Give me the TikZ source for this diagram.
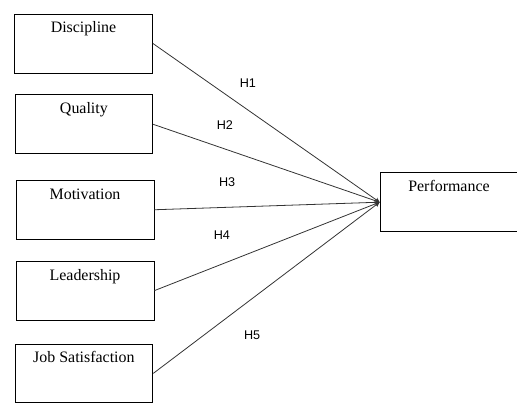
\documentclass[tikz,border=0pt]{standalone}
\usepackage{xcolor}
\usepackage{fontspec}
\usepackage{tikz}
\setmainfont{Liberation Serif}
\newfontfamily\hfont{Liberation Sans}

\tikzset{
    caja/.style={draw, line width=0.6pt, rectangle, inner sep=0pt, minimum width=3.65cm,
        text height=0.5cm, text depth=1.06cm, font=\fontsize{12}{14}\selectfont},
    hip/.style={font=\hfont\fontsize{9.5}{11}\selectfont},
    flecha/.style={->, line width=0.6pt, black!80}
}

\begin{document}
\begin{tikzpicture}[>=stealth]
    \useasboundingbox (0,0) rectangle (13.68,10.87);

    % Variables independientes
    \node[caja] (disc) at (2.21,9.72) {Discipline};
    \node[caja] (qual) at (2.22,7.58) {Quality};
    \node[caja] (moti) at (2.25,5.32) {Motivation};
    \node[caja] (lead) at (2.25,3.18) {Leadership};
    \node[caja] (jobs) at (2.22,0.99) {Job Satisfaction};

    % Variable dependiente
    \node[caja] (perf) at (11.88,5.52) {Performance};

    % Hipotesis
    \node[hip] (h1) at (6.56,8.68) {H1};
    \node[hip] (h2) at (5.95,7.57) {H2};
    \node[hip] (h3) at (6.01,6.06) {H3};
    \node[hip] (h4) at (5.87,4.66) {H4};
    \node[hip] (h5) at (6.67,2.01) {H5};

    % Relaciones
    \draw[flecha] (disc.east) -- (perf.west);
    \draw[flecha] (qual.east) -- (perf.west);
    \draw[flecha] (moti.east) -- (perf.west);
    \draw[flecha] (lead.east) -- (perf.west);
    \draw[flecha] (jobs.east) -- (perf.west);

\end{tikzpicture}
\end{document}
